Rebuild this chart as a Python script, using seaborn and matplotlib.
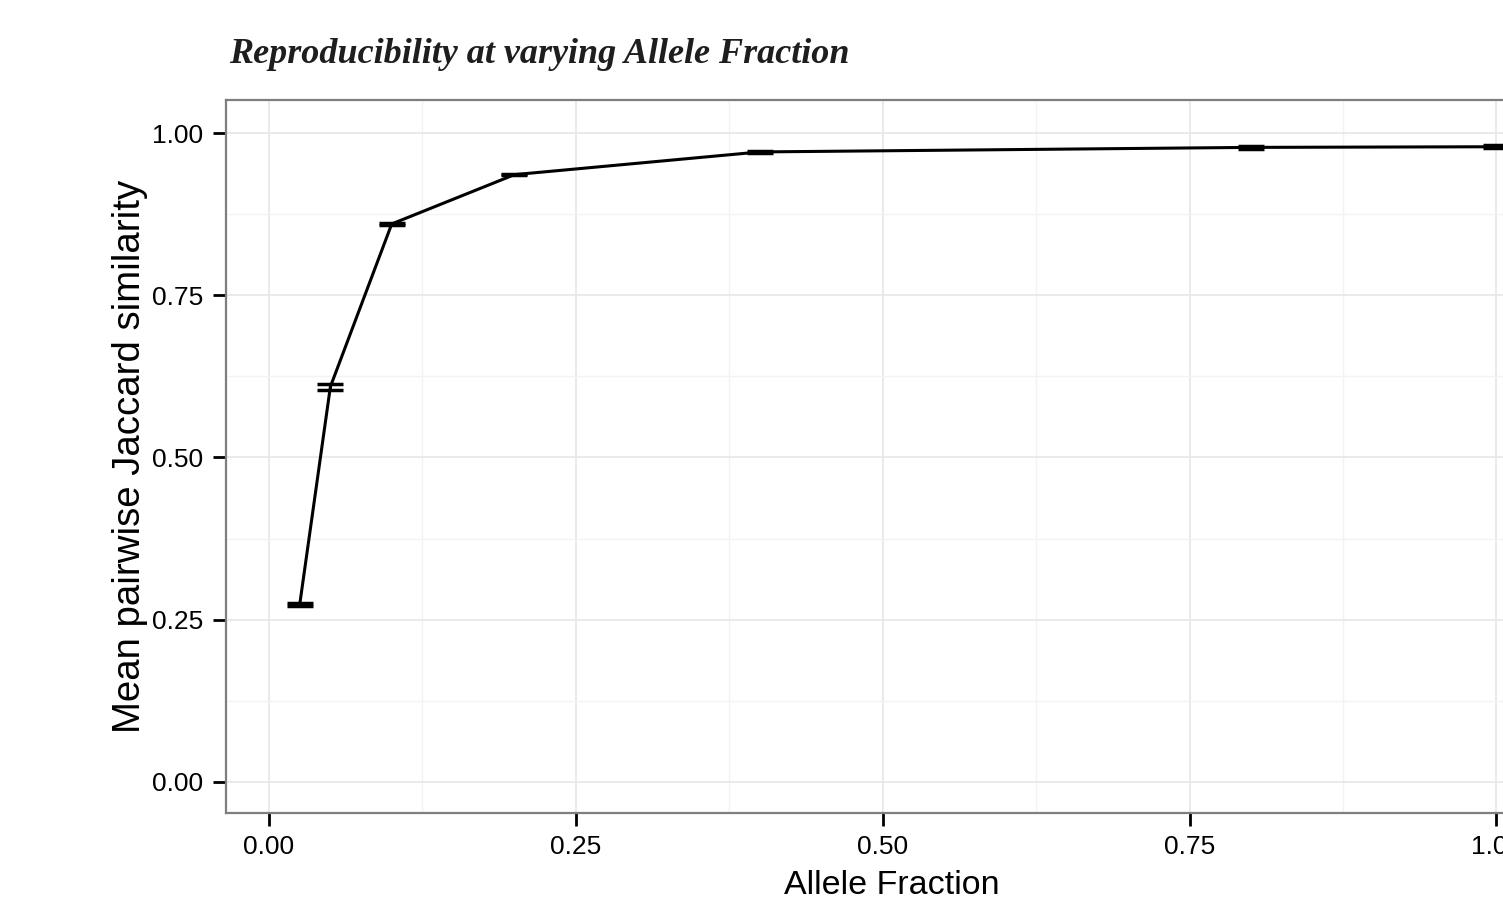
import numpy as np
import pandas as pd
import matplotlib
matplotlib.use("Agg")
import matplotlib.pyplot as plt
import seaborn as sns
from matplotlib import font_manager
from matplotlib.ticker import MultipleLocator

#  Values
allele_fraction = [0.025, 0.05, 0.1, 0.2, 0.4, 0.8, 1.0]
mean_jaccard = [0.273, 0.609, 0.860, 0.936, 0.971, 0.978, 0.979]
err_jaccard = [0.0025, 0.0045, 0.002, 0.001, 0.002, 0.002, 0.002]
tick_labels = ["0.00", "0.25", "0.50", "0.75", "1.00"]

df = pd.DataFrame({"af": allele_fraction, "jac": mean_jaccard, "err": err_jaccard})

sns.set_theme(style="white")
plt.rcParams["font.family"] = ["Liberation Sans", "DejaVu Sans"]

# narrow face for tick labels if it exists
names = {f.name for f in font_manager.fontManager.ttflist}
if "Liberation Sans Narrow" in names:
    tick_font, tick_size = "Liberation Sans Narrow", 23
else:
    tick_font, tick_size = "Liberation Sans", 19

fig = plt.figure(figsize=(15.03, 9.02), dpi=100)
# axes run past the right edge, as in the reference
ax = fig.add_axes([0.1504, 0.0987, 0.886, 0.7904])

sns.lineplot(data=df, x="af", y="jac", color="black", linewidth=2.2, ax=ax, zorder=3)
ax.errorbar(df["af"], df["jac"], yerr=df["err"], fmt="none", ecolor="black",
            elinewidth=2, capsize=9.5, capthick=2.5, zorder=4)

ax.set_xlim(-0.035, 1.05)
ax.set_ylim(-0.048, 1.051)
ax.xaxis.set_minor_locator(MultipleLocator(0.125))
ax.yaxis.set_minor_locator(MultipleLocator(0.125))
ax.set_xticks([0, 0.25, 0.5, 0.75, 1.0])
ax.set_xticklabels(tick_labels, family=tick_font, fontsize=tick_size)
ax.set_yticks([0, 0.25, 0.5, 0.75, 1.0])
ax.set_yticklabels(tick_labels, family=tick_font, fontsize=tick_size)

ax.grid(True, which="major", color="#e6e6e6", linewidth=1.2)
ax.grid(True, which="minor", color="#f3f3f3", linewidth=1.0)
ax.set_axisbelow(True)
for s in ax.spines.values():
    s.set_color("#7f7f7f")
    s.set_linewidth(1.6)

ax.tick_params(axis="both", which="major", length=9.5, width=2, color="black",
               labelcolor="black", pad=6, bottom=True, left=True)
ax.tick_params(axis="y", which="major", pad=7)
ax.tick_params(axis="both", which="minor", length=0)

ax.set_xlabel("Allele Fraction", fontsize=24.5, labelpad=8, color="black")
ax.set_ylabel("Mean pairwise Jaccard similarity", fontsize=27.6, labelpad=3, color="black")

fig.text(0.1524, 0.930, "Reproducibility at varying Allele Fraction",
         family="Liberation Serif", style="italic", weight="bold",
         fontsize=26, color="#1e1e1e", ha="left", va="baseline")

fig.savefig("out.png", dpi=100)
plt.close(fig)
